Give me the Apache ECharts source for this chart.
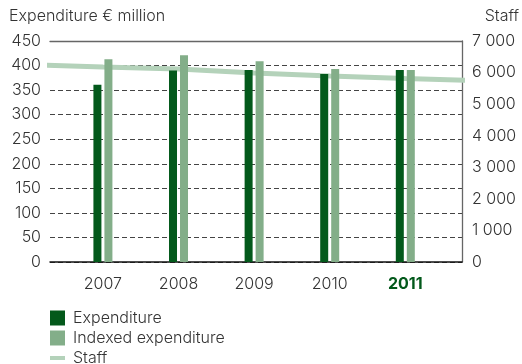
<!DOCTYPE html>
<html>
<head>
<meta charset="utf-8">
<script src="https://cdn.jsdelivr.net/npm/echarts@6/dist/echarts.min.js"></script>
<style>
  html, body { margin: 0; padding: 0; background: #fff; }
  #chart { width: 522px; height: 364px; }
</style>
</head>
<body>
<div id="chart"></div>
<script>
var years = [2007, 2008, 2009, 2010, 2011];
var expenditure = [361, 390, 391, 383, 391];
var indexedExpenditure = [413, 421, 409, 393, 391];
// staff, with the line running on past the first and last year
var staffYears = [2006, 2007, 2008, 2009, 2010, 2011, 2012];
var staff = [6255, 6180, 6110, 5990, 5890, 5810, 5740];

var darkGreen = '#03591b';
var midGreen = '#83ae89';
var paleGreen = '#b4d2ba';
var textColor = '#333';
var font = 'Inter';
var fsize = 16;
var fweight = 300;

function pairs(xs, ys){
    var out = [];
    for(var i=0; i<xs.length; i++){
        out.push([xs[i], ys[i]]);
    }
    return out;
}

function thousands(v){
    var s = String(v);
    if(s.length > 3) s = s.slice(0, s.length-3) + ' ' + s.slice(s.length-3);
    return s;
}

function legendRow(name, icon, top){
    return {
        left: 50, top: top,
        padding: 0,
        itemWidth: 15, itemHeight: 15,
        textStyle: { fontSize: fsize, fontWeight: fweight, color: textColor, fontFamily: font, padding: [0, 0, 0, 3] },
        data: [{ name: name, icon: icon }]
    };
}

var chart = echarts.init(document.getElementById('chart'));

var option = {
    animation: false,
    textStyle: { fontFamily: font },
    title: [
        { text: 'Expenditure € million', left: 9, top: 8, padding: 0,
          textStyle: { fontSize: fsize, fontWeight: fweight, color: textColor, fontFamily: font } },
        { text: 'Staff', right: 3, top: 8, padding: 0,
          textStyle: { fontSize: fsize, fontWeight: fweight, color: textColor, fontFamily: font } }
    ],
    grid: { left: 50, right: 60, top: 41, bottom: 102, containLabel: false },
    legend: [
        legendRow('Expenditure', 'rect', 310),
        legendRow('Indexed expenditure', 'rect', 330),
        legendRow('Staff', 'path://M0,0h15v4h-15z', 350)
    ],
    xAxis: [{
        type: 'value',
        min: 2006.3, max: 2011.75,
        position: 'bottom',
        axisLine: { show: true, onZero: false, lineStyle: { color: '#111', width: 1.5 } },
        axisTick: { show: false },
        splitLine: { show: false },
        axisLabel: {
            customValues: years,
            margin: 14,
            fontSize: fsize,
            fontWeight: fweight,
            color: textColor,
            fontFamily: font,
            formatter: function(v){
                return v === 2011 ? '{b|' + v + '}' : String(v);
            },
            rich: { b: { fontSize: fsize, fontWeight: 'bold', color: darkGreen, fontFamily: font } }
        }
    }, {
        type: 'value',
        min: 2006.3, max: 2011.75,
        position: 'top',
        axisLine: { show: true, onZero: false, lineStyle: { color: '#666', width: 1.3 } },
        axisTick: { show: false },
        axisLabel: { show: false },
        splitLine: { show: false }
    }],
    yAxis: [{
        type: 'value',
        min: 0, max: 450, interval: 50,
        position: 'left',
        axisLine: { show: false },
        axisTick: { show: false },
        axisLabel: { fontSize: fsize, fontWeight: fweight, color: textColor, margin: 9, fontFamily: font },
        splitLine: { show: true, lineStyle: { color: '#444', type: [5, 3], width: 1 } }
    }, {
        type: 'value',
        min: 0, max: 7000, interval: 1000,
        position: 'right',
        axisLine: { show: true, lineStyle: { color: '#666', width: 1.3 } },
        axisTick: { show: false },
        splitLine: { show: false },
        axisLabel: {
            fontSize: fsize, fontWeight: fweight, color: textColor, margin: 10, fontFamily: font,
            padding: [12, 0, 0, 0],
            formatter: thousands
        }
    }],
    series: [{
        name: 'Staff',
        type: 'line',
        xAxisIndex: 0, yAxisIndex: 1,
        z: 1,
        symbol: 'none',
        clip: true,
        lineStyle: { color: paleGreen, width: 5 },
        itemStyle: { color: paleGreen },
        data: pairs(staffYears, staff)
    }, {
        name: 'Expenditure',
        type: 'bar',
        xAxisIndex: 0, yAxisIndex: 0,
        z: 2,
        barWidth: 8,
        barGap: '37.5%',
        itemStyle: { color: darkGreen },
        data: pairs(years, expenditure)
    }, {
        name: 'Indexed expenditure',
        type: 'bar',
        xAxisIndex: 0, yAxisIndex: 0,
        z: 2,
        barWidth: 8,
        barGap: '37.5%',
        itemStyle: { color: midGreen },
        data: pairs(years, indexedExpenditure)
    }]
};

chart.setOption(option);
</script>
</body>
</html>
